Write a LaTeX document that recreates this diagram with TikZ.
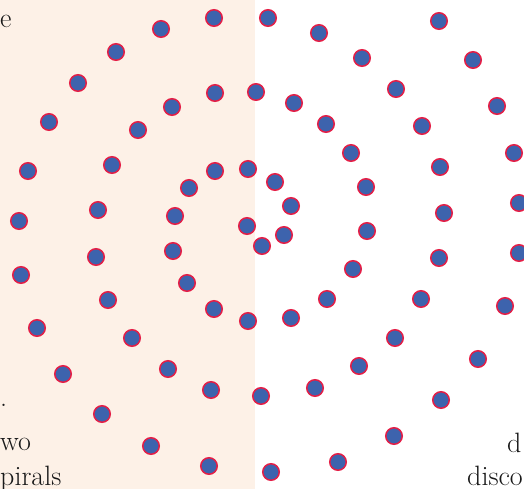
\documentclass[tikz,border=0pt]{standalone}
\usepackage{tikz}
\usetikzlibrary{positioning}
\definecolor{seedblue}{RGB}{61,99,173}
\definecolor{seedred}{RGB}{228,30,70}
\definecolor{bgpeach}{RGB}{253,241,231}

\begin{document}
\begin{tikzpicture}[
    x=1pt, y=-1pt,
    seed/.style={circle, draw=seedred, fill=seedblue, line width=1.5pt, minimum size=16.5pt, inner sep=0pt},
    word/.style={anchor=base west, inner sep=0pt, font=\fontsize{28}{31}\selectfont, text=black!90}
]
\useasboundingbox (0,0) rectangle (524,489);
\clip (0,0) rectangle (524,489);

% Shaded half
\fill[bgpeach] (0,0) rectangle (255,489);

% Text fragments at the edges
\node[word] (t1) at (0,28) {e};
\node[word] (t2) at (0,406) {.};
\node[word] (t3) at (0,450) {wo};
\node[word] (t4) at (0,485) {pirals};
\node[word] (t5) at (507,452) {d};
\node[word, anchor=base east] (t6) at (523,485) {disco};

% Seeds
\foreach \px/\py [count=\i] in {
    214/18, 268/18, 161/29, 319/33, 439/21, 116/52, 362/58, 473/60,
    78/83, 215/93, 256/92, 172/107, 294/103, 396/89, 497/106,
    49/122, 138/130, 326/124, 422/126, 112/165, 28/171, 215/171, 248/169,
    351/153, 440/167, 514/153, 189/188, 275/182, 366/187, 291/206,
    98/210, 19/221, 175/216, 247/226, 284/235, 262/246, 367/231, 444/213, 519/203,
    96/257, 173/251, 21/275, 353/269, 439/258, 519/253,
    187/283, 108/300, 327/299, 421/299, 505/306,
    214/309, 248/321, 291/318, 37/328, 132/338, 395/338,
    478/359, 168/369, 359/366, 63/374,
    211/390, 261/396, 315/388, 441/400, 102/414,
    394/436, 151/446, 209/466, 271/472, 338/462}
    \node[seed] (s\i) at (\px,\py) {};

\end{tikzpicture}
\end{document}
